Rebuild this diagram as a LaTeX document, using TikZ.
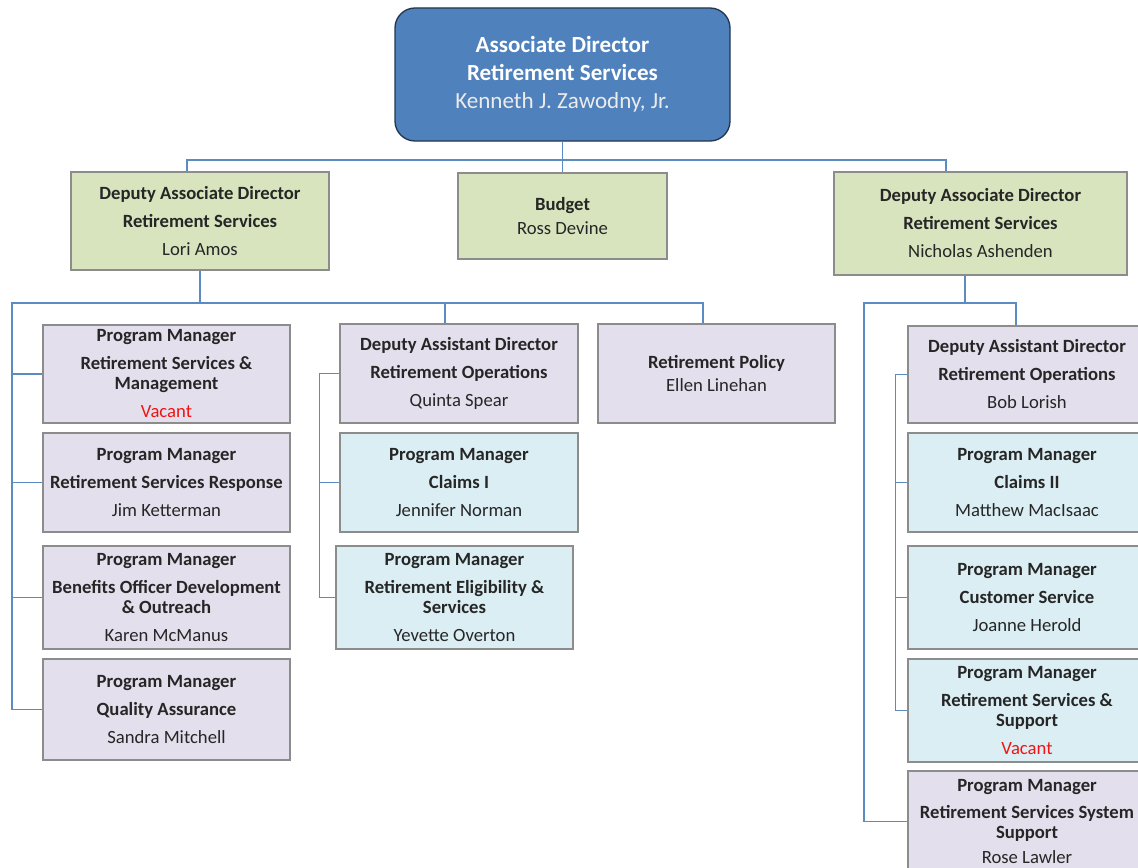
\documentclass[tikz,border=0pt]{standalone}
\usepackage{fontspec}
\setmainfont{Carlito}
\usepackage{xcolor}
\usetikzlibrary{positioning,calc}

\definecolor{chiefblue}{HTML}{4F81BD}
\definecolor{chiefedge}{HTML}{25364F}
\definecolor{deputygreen}{HTML}{D7E4BD}
\definecolor{unitlilac}{HTML}{E4DFEC}
\definecolor{unitblue}{HTML}{DAEEF3}
\definecolor{boxgray}{HTML}{8C8C8C}
\definecolor{linkblue}{HTML}{5B8BC0}
\definecolor{vacantred}{HTML}{F01414}

\begin{document}
\begin{tikzpicture}[
    x=0.75pt, y=-0.75pt,
    chief/.style={rectangle, rounded corners=15pt, fill=chiefblue, draw=chiefedge, line width=1pt, text=white, inner sep=0pt, align=center, font=\fontsize{17.3}{21}\selectfont},
    deputy/.style={rectangle, fill=deputygreen, draw=boxgray, line width=0.8pt, text=black!85, inner sep=0pt, align=center, font=\fontsize{14}{15}\selectfont},
    unit/.style={deputy, fill=unitlilac},
    claims/.style={deputy, fill=unitblue},
    link/.style={draw=linkblue, line width=1pt}
]
    \useasboundingbox (0,0) rectangle (1138,867);
    \clip (0,0) rectangle (1138,867);

    % Head of the office
    \node[chief, minimum width=251.25pt, minimum height=99.75pt] at (562.5,74.5) (chief) {\textbf{Associate Director}\\\textbf{Retirement Services}\\{\color{white!92!black}Kenneth J. Zawodny, Jr.}};

    % Second level
    \node[deputy, minimum width=193.5pt, minimum height=73.5pt] at (200,221) (dadl) {\textbf{Deputy Associate Director}\\[6pt]\textbf{Retirement Services}\\[6pt]Lori Amos};
    \node[deputy, minimum width=156.75pt, minimum height=64.5pt] at (562.5,216) (budget) {\textbf{Budget}\\[3pt]Ross Devine};
    \node[deputy, minimum width=219.75pt, minimum height=77.25pt] at (980.5,223.5) (dadr) {\textbf{Deputy Associate Director}\\[6pt]\textbf{Retirement Services}\\[6pt]Nicholas Ashenden};

    % Left column (under Lori Amos)
    \node[unit, minimum width=185.25pt, minimum height=73.5pt] at (166.5,374) (rsm) {\textbf{Program Manager}\\[6pt]\textbf{Retirement Services \&}\\\textbf{Management}\\[6pt]{\color{vacantred}Vacant}};
    \node[unit, minimum width=185.25pt, minimum height=74.25pt] at (166.5,482.5) (resp) {\textbf{Program Manager}\\[6pt]\textbf{Retirement Services Response}\\[6pt]Jim Ketterman};
    \node[unit, minimum width=185.25pt, minimum height=77.25pt] at (166.5,597.5) (ben) {\textbf{Program Manager}\\[6pt]\textbf{Benefits Officer Development}\\\textbf{\& Outreach}\\[6pt]Karen McManus};
    \node[unit, minimum width=185.25pt, minimum height=75.75pt] at (166.5,709.5) (qa) {\textbf{Program Manager}\\[6pt]\textbf{Quality Assurance}\\[6pt]Sandra Mitchell};

    % Middle column
    \node[unit, minimum width=178.5pt, minimum height=74.25pt] at (459,373.5) (dasdq) {\textbf{Deputy Assistant Director}\\[6pt]\textbf{Retirement Operations}\\[6pt]Quinta Spear};
    \node[claims, minimum width=178.5pt, minimum height=74.25pt] at (459,482.5) (claimsi) {\textbf{Program Manager}\\[6pt]\textbf{Claims I}\\[6pt]Jennifer Norman};
    \node[claims, minimum width=177.75pt, minimum height=77.25pt] at (454.5,597.5) (elig) {\textbf{Program Manager}\\[6pt]\textbf{Retirement Eligibility \&}\\\textbf{Services}\\[6pt]Yevette Overton};
    \node[unit, minimum width=177.75pt, minimum height=74.25pt] at (716.5,373.5) (pol) {\textbf{Retirement Policy}\\[2pt]Ellen Linehan};

    % Right column (under Nicholas Ashenden)
    \node[unit, minimum width=178.5pt, minimum height=72.75pt] at (1027,374.5) (bob) {\textbf{Deputy Assistant Director}\\[6pt]\textbf{Retirement Operations}\\[6pt]Bob Lorish};
    \node[claims, minimum width=178.5pt, minimum height=74.25pt] at (1027,482.5) (claimsii) {\textbf{Program Manager}\\[6pt]\textbf{Claims II}\\[6pt]Matthew MacIsaac};
    \node[claims, minimum width=178.5pt, minimum height=77.25pt] at (1027,597.5) (cust) {\textbf{Program Manager}\\[6pt]\textbf{Customer Service}\\[6pt]Joanne Herold};
    \node[claims, minimum width=178.5pt, minimum height=77.25pt] at (1027,710.5) (supp) {\textbf{Program Manager}\\[6pt]\textbf{Retirement Services \&}\\\textbf{Support}\\[6pt]{\color{vacantred}Vacant}};
    \node[unit, minimum width=178.5pt, minimum height=75.75pt] at (1027,821.5) (rose) {\textbf{Program Manager}\\[5pt]\textbf{Retirement Services System}\\\textbf{Support}\\[4pt]Rose Lawler};

    % Top bus
    \coordinate (busTL) at (187,160);
    \coordinate (busTR) at (946,160);
    \draw[link] (chief) -- (budget);
    \draw[link] (dadl.north -| busTL) -- (busTL) -- (busTR) -- (dadr.north -| busTR);

    % Left branch
    \coordinate (busL) at (12,303);
    \coordinate (busLM) at (445,303);
    \coordinate (busLE) at (703,303);
    \draw[link] (dadl.south) -- (dadl.south |- busL);
    \draw[link] (pol.north -| busLE) -- (busLE) -- (busL) |- (qa.west);
    \draw[link] (busLM) -- (busLM |- dasdq.north);
    \foreach \n in {rsm,resp,ben}
        \draw[link] (busL |- \n.west) -- (\n.west);

    % Middle branch
    \draw[link] (dasdq.west) -- ++(-20,0) coordinate (trM) |- (elig.west);
    \draw[link] (trM |- claimsi.west) -- (claimsi.west);

    % Right branch
    \coordinate (busR) at (864,303);
    \coordinate (dropR) at (965,303);
    \coordinate (busRE) at (1016,303);
    \draw[link] (dropR |- dadr.south) -- (dropR);
    \draw[link] (bob.north -| busRE) -- (busRE) -- (busR) |- (rose.west);
    \draw[link] (bob.west) -- ++(-12,0) coordinate (trR) |- (supp.west);
    \foreach \n in {claimsii,cust}
        \draw[link] (trR |- \n.west) -- (\n.west);

\end{tikzpicture}
\end{document}
